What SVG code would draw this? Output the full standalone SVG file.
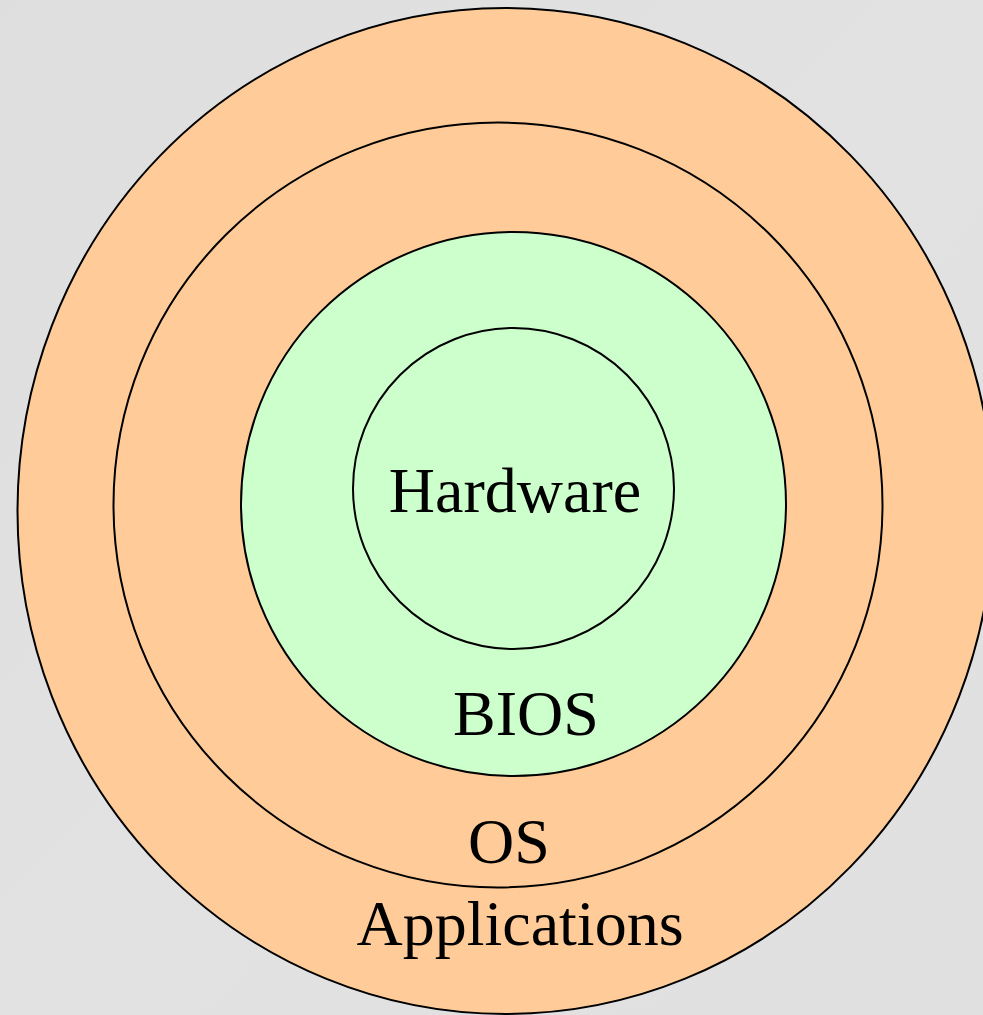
<svg xmlns="http://www.w3.org/2000/svg" width="983" height="1015" viewBox="0 0 983 1015">
<style>
.ring{stroke:#000;stroke-width:2}
.app{fill:#FFCC99}
.bios{fill:#CCFFCC}
.lbl{font-family:"Liberation Serif","Times New Roman",serif;font-size:64px;fill:#000;text-anchor:middle}
</style>
<defs>
<linearGradient id="bg" x1="0" y1="0" x2="1" y2="1">
<stop offset="0" stop-color="#dedede"/>
<stop offset="0.5" stop-color="#e2e2e2"/>
<stop offset="1" stop-color="#e0e0e0"/>
</linearGradient>
</defs>
<rect x="0" y="0" width="983" height="1015" fill="url(#bg)"/>
<g id="applications">
<ellipse class="ring app" cx="505.5" cy="511" rx="488" ry="503"/>
<text class="lbl" x="520" y="945">Applications</text>
</g>
<g id="os">
<ellipse class="ring app" cx="498" cy="505" rx="384.5" ry="382.5"/>
<text class="lbl" x="509" y="863">OS</text>
</g>
<g id="bios">
<ellipse class="ring bios" cx="513.5" cy="504" rx="272.5" ry="272"/>
<text class="lbl" x="526" y="735">BIOS</text>
</g>
<g id="hardware">
<ellipse class="ring bios" cx="513.5" cy="488.5" rx="160.5" ry="160.5"/>
<text class="lbl" x="515" y="512">Hardware</text>
</g>
<g id="connectors"/>
</svg>
